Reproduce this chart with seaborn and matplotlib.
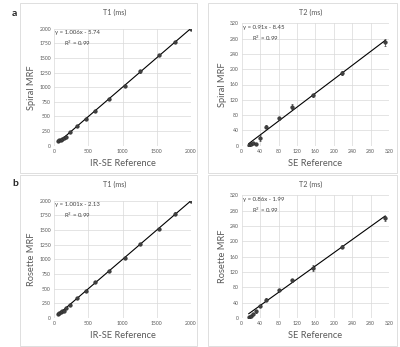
import numpy as np
import pandas as pd
import seaborn as sns
import matplotlib.pyplot as plt
from matplotlib.patches import Rectangle

# T1 phantom values (ms)
t1_ref = [65, 80, 95, 120, 140, 180, 230, 340, 460, 600, 800, 1030, 1250, 1530, 1770, 2000]
t1_spiral = [75, 90, 100, 120, 130, 150, 230, 340, 455, 590, 800, 1020, 1270, 1550, 1770, 2000]
t1_spiral_err = [10, 10, 10, 12, 12, 15, 12, 15, 15, 15, 15, 20, 20, 20, 20, 25]
t1_rosette = [70, 85, 95, 115, 125, 175, 230, 340, 460, 610, 800, 1020, 1260, 1520, 1780, 2000]
t1_rosette_err = [10, 10, 10, 12, 12, 15, 12, 15, 15, 15, 15, 20, 20, 20, 25, 25]

# T2 phantom values (ms)
t2_ref = [15, 20, 25, 30, 40, 52, 80, 110, 155, 218, 312]
t2_spiral = [2, 4, 6, 5, 20, 50, 72, 102, 132, 190, 270]
t2_spiral_err = [2, 2, 2, 2, 8, 3, 4, 6, 4, 5, 10]
t2_rosette = [2, 6, 10, 18, 32, 48, 73, 98, 130, 186, 260]
t2_rosette_err = [2, 3, 3, 4, 3, 4, 3, 5, 8, 4, 6]

fits = {
    "t1_spiral": (1.006, -5.74), "t2_spiral": (0.91, -8.45),
    "t1_rosette": (1.001, -2.13), "t2_rosette": (0.86, -1.99),
}

sns.set_style("white")
plt.rcParams["font.family"] = ["Lato", "DejaVu Sans"]

fig = plt.figure(figsize=(4.0, 3.47), dpi=100)
W, H = 400, 347

def px_axes(left, right, top, bottom):
    return fig.add_axes([left / W, 1 - bottom / H, (right - left) / W, (bottom - top) / H])

panels = [
    # key, x, y, err, axes box, ticks, labels, title position (px)
    ("t1_spiral", t1_ref, t1_spiral, t1_spiral_err, (54, 191, 28.7, 145.7),
     np.arange(0, 2001, 500), np.arange(0, 2001, 250), "IR-SE Reference", "Spiral MRF", "T1 (ms)", (115, 12)),
    ("t2_spiral", t2_ref, t2_spiral, t2_spiral_err, (241.7, 389, 23.3, 145.7),
     np.arange(0, 321, 40), np.arange(0, 321, 40), "SE Reference", "Spiral MRF", "T2 (ms)", (311, 12)),
    ("t1_rosette", t1_ref, t1_rosette, t1_rosette_err, (54, 191, 200.7, 318),
     np.arange(0, 2001, 500), np.arange(0, 2001, 250), "IR-SE Reference", "Rosette MRF", "T1 (ms)", (115, 184)),
    ("t2_rosette", t2_ref, t2_rosette, t2_rosette_err, (241.7, 389, 195.3, 318),
     np.arange(0, 321, 40), np.arange(0, 321, 40), "SE Reference", "Rosette MRF", "T2 (ms)", (311, 184)),
]

grey = "#595959"
for key, x, y, err, box, xt, yt, xl, yl, title, tpos in panels:
    ax = px_axes(*box)
    df = pd.DataFrame({"ref": x, "mrf": y, "err": err})
    slope, icpt = fits[key]
    xs = np.array([min(x), max(x)])
    ax.plot(xs, slope * xs + icpt, color="black", lw=0.8, zorder=2)
    ax.errorbar(df["ref"], df["mrf"], yerr=df["err"], fmt="none", ecolor="#404040",
                elinewidth=0.5, capsize=1, capthick=0.5, zorder=3)
    sns.scatterplot(data=df, x="ref", y="mrf", ax=ax, color="#404040", s=7,
                    edgecolor="#202020", linewidth=0.3, zorder=4)
    ax.set_xlim(xt[0], xt[-1])
    ax.set_ylim(yt[0], yt[-1])
    ax.set_xticks(xt)
    ax.set_yticks(yt)
    ax.grid(True, color="#d9d9d9", lw=0.5)
    ax.set_axisbelow(True)
    for s in ax.spines.values():
        s.set_visible(False)
    ax.tick_params(labelsize=3.7, colors=grey, length=0, pad=2.2)
    ax.set_xlabel(xl, fontsize=6.7, color=grey, labelpad=3.5)
    ax.set_ylabel(yl, fontsize=6.7, color=grey, labelpad=2)
    fig.text(tpos[0] / W, 1 - tpos[1] / H, title, fontsize=5.2, color=grey, ha="center", va="center")
    sign = "-" if icpt < 0 else "+"
    eq = f"y = {slope:g}x {sign} {abs(icpt):.2f}"
    ax.text(0.01, 0.985, eq, transform=ax.transAxes, fontsize=4.3, color="#404040", va="top")
    ax.text(0.07, 0.915, "R$^2$ = 0.99", transform=ax.transAxes, fontsize=4.3, color="#404040", va="top")

# Excel-like chart area borders
for (l, r, t, b) in [(20, 197, 3, 173), (208, 397, 3, 173), (20, 197, 175, 346), (208, 397, 175, 346)]:
    fig.add_artist(Rectangle((l / W, 1 - b / H), (r - l) / W, (b - t) / H, transform=fig.transFigure,
                             fill=False, edgecolor="#d9d9d9", lw=0.6))

fig.text(12 / W, 1 - 14 / H, "a", fontsize=7.5, fontweight="bold", va="center")
fig.text(12 / W, 1 - 184 / H, "b", fontsize=7.5, fontweight="bold", va="center")

fig.savefig("out.png", dpi=100)
